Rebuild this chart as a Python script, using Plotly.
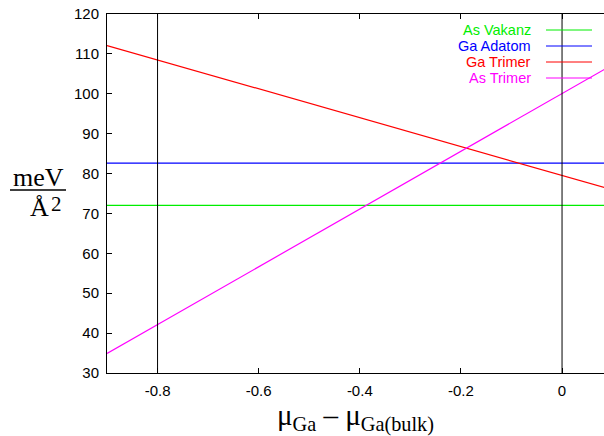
import plotly.graph_objects as go

# Data
x_ends = [-0.9, 0.1]
series_names = ["As Vakanz", "Ga Adatom", "Ga Trimer", "As Trimer"]
as_vakanz = [72.0, 72.0]
ga_adatom = [82.6, 82.6]
ga_trimer = [112.1, 75.9]
as_trimer = [34.9, 107.3]
series_colors = ["#00ee00", "#0000ff", "#ff0000", "#ff00ff"]
vlines_x = [-0.8, 0.0]
xticks = [-0.8, -0.6, -0.4, -0.2, 0]
xtick_labels = ["-0.8", "-0.6", "-0.4", "-0.2", "0"]
yticks = [30, 40, 50, 60, 70, 80, 90, 100, 110, 120]

W, H = 604, 436
ML, MR, MT, MB = 107, 0, 14, 63
PW, PH = W - ML - MR, H - MT - MB

def px(xp):
    return (xp - ML) / PW

def py(yp):
    return 1 - (yp - MT) / PH

fig = go.Figure()
for name, ys, col in zip(series_names, [as_vakanz, ga_adatom, ga_trimer, as_trimer], series_colors):
    fig.add_trace(go.Scatter(x=x_ends, y=ys, mode="lines", name=name,
                             line=dict(color=col, width=1.2), showlegend=False))

shapes = []
for vx in vlines_x:
    shapes.append(dict(type="line", xref="x", yref="paper", x0=vx, x1=vx, y0=0, y1=1,
                       line=dict(color="black", width=1)))

annotations = []
# manual legend (text right-aligned, sample on the right)
leg_rows = [30, 46, 62, 78]
for name, col, yr in zip(series_names, series_colors, leg_rows):
    annotations.append(dict(text=name, xref="paper", yref="paper", x=px(533), y=py(yr),
                            xanchor="right", yanchor="middle", showarrow=False,
                            font=dict(family="Liberation Sans", size=14.5, color=col)))
    shapes.append(dict(type="line", xref="paper", yref="paper", x0=px(546), x1=px(592),
                       y0=py(yr), y1=py(yr), line=dict(color=col, width=1)))

# y label as a fraction
annotations.append(dict(text="meV", xref="paper", yref="paper", x=px(38), y=py(177),
                        xanchor="center", yanchor="middle", showarrow=False,
                        font=dict(family="Liberation Serif", size=26, color="black")))
shapes.append(dict(type="line", xref="paper", yref="paper", x0=px(10), x1=px(66),
                   y0=py(190), y1=py(190), line=dict(color="black", width=1.5)))
annotations.append(dict(text="Å", xref="paper", yref="paper", x=px(39), y=py(208),
                        xanchor="center", yanchor="middle", showarrow=False,
                        font=dict(family="Liberation Serif", size=26, color="black")))
annotations.append(dict(text="2", xref="paper", yref="paper", x=px(49), y=py(204),
                        xanchor="left", yanchor="middle", showarrow=False,
                        font=dict(family="Liberation Serif", size=21, color="black")))

fig.update_layout(
    width=W, height=H,
    margin=dict(l=ML, r=MR, t=MT, b=MB),
    paper_bgcolor="white", plot_bgcolor="white",
    shapes=shapes, annotations=annotations,
    xaxis=dict(range=[-0.9, 0.083], tickvals=xticks, ticktext=xtick_labels,
               ticks="inside", ticklen=5, tickcolor="black", showline=True,
               linecolor="black", linewidth=1, mirror="ticks", showgrid=False,
               zeroline=False, ticklabelstandoff=4,
               tickfont=dict(family="Liberation Sans", size=15, color="black"),
               title=dict(text="μ<sub>Ga</sub> – μ<sub>Ga(bulk)</sub>",
                          font=dict(family="Liberation Serif", size=29, color="black"),
                          standoff=2)),
    yaxis=dict(range=[30, 120], tickvals=yticks, ticks="inside", ticklen=5,
               tickcolor="black", showline=True, linecolor="black", linewidth=1,
               mirror=False, showgrid=False, zeroline=False, ticklabelstandoff=4,
               tickfont=dict(family="Liberation Sans", size=15, color="black")),
)

fig.write_html("out.html")
